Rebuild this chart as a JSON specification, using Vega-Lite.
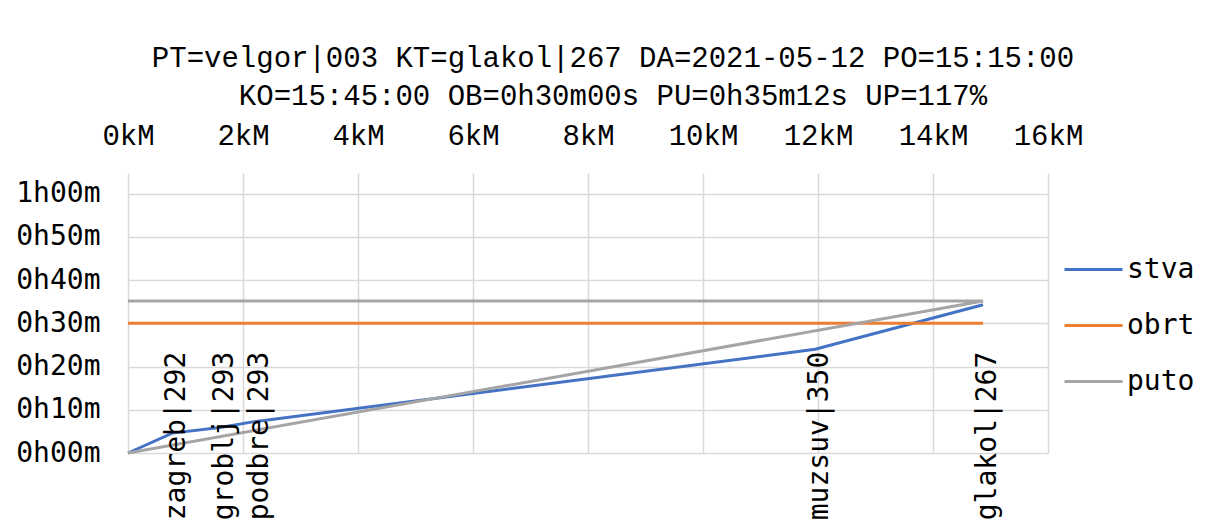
{
  "$schema": "https://vega.github.io/schema/vega-lite/v6.json",
  "width": 920,
  "height": 280,
  "autosize": {"type": "none"},
  "padding": {"left": 128, "top": 173, "right": 169, "bottom": 75},
  "background": "white",
  "title": {
    "text": ["PT=velgor|003 KT=glakol|267 DA=2021-05-12 PO=15:15:00", "KO=15:45:00 OB=0h30m00s PU=0h35m12s UP=117%"],
    "font": "Liberation Mono",
    "fontSize": 29,
    "fontWeight": "normal",
    "color": "#000000",
    "lineHeight": 38,
    "anchor": "middle",
    "dx": 25,
    "offset": 10
  },
  "config": {
    "view": {"stroke": null},
    "font": "Liberation Mono"
  },
  "datasets": {
    "series": [
      {"serie": "stva", "km": 0, "min": 0, "o": 0},
      {"serie": "stva", "km": 0.77, "min": 4.6, "o": 1},
      {"serie": "stva", "km": 1.6, "min": 5.9, "o": 2},
      {"serie": "stva", "km": 2.17, "min": 7.2, "o": 3},
      {"serie": "stva", "km": 11.95, "min": 24.0, "o": 4},
      {"serie": "stva", "km": 14.87, "min": 34.3, "o": 5},
      {"serie": "obrt", "km": 0, "min": 30, "o": 0},
      {"serie": "obrt", "km": 14.87, "min": 30, "o": 1},
      {"serie": "puto", "km": 0, "min": 0, "o": 0},
      {"serie": "puto", "km": 14.87, "min": 35.2, "o": 1},
      {"serie": "puto", "km": 0, "min": 35.2, "o": 2}
    ],
    "stations": [
      {"name": "zagreb|292", "km": 0.77},
      {"name": "groblj|293", "km": 1.6},
      {"name": "podbre|293", "km": 2.2},
      {"name": "muzsuv|350", "km": 11.95},
      {"name": "glakol|267", "km": 14.87}
    ]
  },
  "layer": [
    {
      "data": {"name": "series"},
      "mark": {"type": "line", "strokeWidth": 3, "clip": false},
      "encoding": {
        "x": {
          "field": "km", "type": "quantitative",
          "scale": {"domain": [0, 16], "nice": false, "zero": false},
          "axis": {
            "orient": "top", "values": [0, 2, 4, 6, 8, 10, 12, 14, 16],
            "labelExpr": "datum.value + 'kM'",
            "grid": true, "gridColor": "#d9d9d9", "gridWidth": 1.5,
            "domain": false, "ticks": false, "labelPadding": 23,
            "labelFlush": false, "labelOverlap": false, "labelBound": false,
            "labelFont": "Liberation Mono", "labelFontSize": 29, "labelColor": "#000000",
            "title": null
          }
        },
        "y": {
          "field": "min", "type": "quantitative",
          "scale": {"domain": [0, 64.8], "nice": false},
          "axis": {
            "values": [0, 10, 20, 30, 40, 50, 60],
            "labelExpr": "floor(datum.value/60) + 'h' + (datum.value % 60 < 10 ? '0' : '') + (datum.value % 60) + 'm'",
            "grid": true, "gridColor": "#d9d9d9", "gridWidth": 1.5,
            "domain": false, "ticks": false, "labelPadding": 28,
            "labelFlush": false, "labelOverlap": false,
            "labelFont": "DejaVu Sans Mono", "labelFontSize": 28, "labelColor": "#000000",
            "title": null
          }
        },
        "color": {
          "field": "serie", "type": "nominal",
          "scale": {"domain": ["stva", "obrt", "puto"], "range": ["#4472c4", "#ed7d31", "#a5a5a5"]},
          "legend": {
            "orient": "none", "legendX": 935, "legendY": 66,
            "title": null, "symbolType": "stroke", "symbolSize": 3364,
            "symbolStrokeWidth": 3, "labelFont": "DejaVu Sans Mono", "labelFontSize": 28,
            "labelColor": "#000000", "labelOffset": 3, "rowPadding": 11, "padding": 0
          }
        },
        "order": {"field": "o", "type": "quantitative"}
      }
    },
    {
      "data": {"name": "stations"},
      "mark": {
        "type": "text", "angle": 270, "align": "center", "baseline": "middle",
        "dx": 17, "dy": 5, "font": "DejaVu Sans Mono", "fontSize": 28, "color": "#000000"
      },
      "encoding": {
        "x": {"field": "km", "type": "quantitative"},
        "y": {"datum": 0},
        "text": {"field": "name"}
      }
    }
  ]
}
